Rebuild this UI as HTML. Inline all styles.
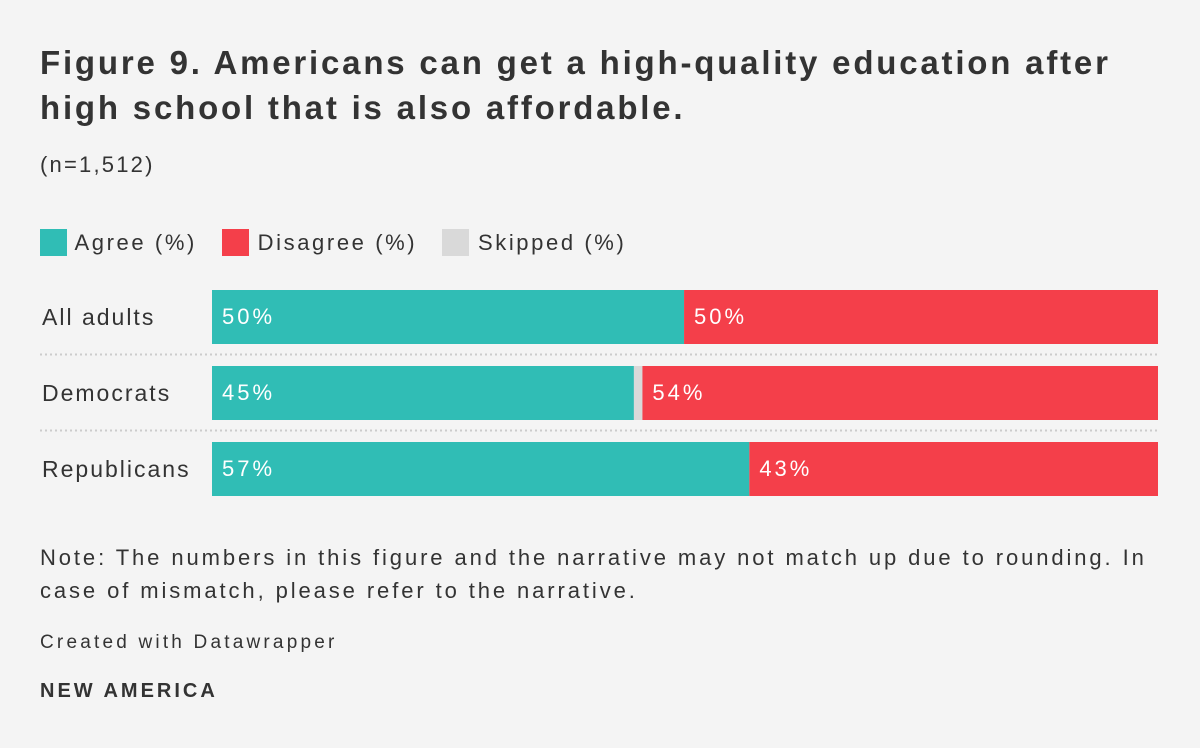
<!DOCTYPE html>
<html><head><meta charset="utf-8"><style>
body{margin:0;width:1200px;height:748px;background:#f4f4f4;font-family:"Liberation Sans",sans-serif;color:#333;position:relative;overflow:hidden}
.abs{position:absolute;white-space:nowrap}
.lg{display:inline-block;margin-right:25px}
</style></head><body>
<div class="abs" style="left:40px;top:40px;font-size:33px;font-weight:bold;line-height:45px;color:#333;letter-spacing:2.8px">Figure 9. Americans can get a high-quality education after<br>high school that is also affordable.</div>
<div class="abs" style="left:40px;top:152px;font-size:22px;letter-spacing:2.2px">(n=1,512)</div>
<div class="abs" style="left:40px;top:228px;font-size:22px;line-height:30px;letter-spacing:2.6px">
<span class="lg"><span style="display:inline-block;width:27px;height:27px;background:#30bdb5;vertical-align:-6px"></span> Agree (%)</span><span class="lg"><span style="display:inline-block;width:27px;height:27px;background:#f43f4a;vertical-align:-6px"></span> Disagree (%)</span><span class="lg"><span style="display:inline-block;width:27px;height:27px;background:#d9d9d9;vertical-align:-6px"></span> Skipped (%)</span>
</div>
<svg id="chart" width="1200" height="748" style="position:absolute;left:0;top:0"></svg>
<div class="abs" style="left:40px;top:541px;font-size:22px;line-height:33px;letter-spacing:2.9px">Note: The numbers in this figure and the narrative may not match up due to rounding. In<br>case of mismatch, please refer to the narrative.</div>
<div class="abs" style="left:40px;top:632px;font-size:19px;letter-spacing:3.2px">Created with Datawrapper</div>
<div class="abs" style="left:40px;top:680px;font-size:20px;font-weight:bold;letter-spacing:3px">NEW AMERICA</div>
<script>
const categories=["All adults","Democrats","Republicans"];
const agree=[49.9,44.6,56.8];
const skipped=[0,0.9,0];
const disagree=[50.1,54.5,43.2];
const agreeLabels=["50%","45%","57%"];
const disagreeLabels=["50%","54%","43%"];
const svg=document.getElementById('chart');
const NS="http://www.w3.org/2000/svg";
const x0=212,x1=1158,rowTop=290,rowStep=76,barH=54;
const xs=v=>v/100*(x1-x0);
function el(t,a){const e=document.createElementNS(NS,t);for(const k in a)e.setAttribute(k,a[k]);svg.appendChild(e);return e;}
categories.forEach((c,i)=>{
 const y=rowTop+i*rowStep;
 const lab=el('text',{x:42,y:y+35,'font-size':23,fill:'#333','letter-spacing':2});lab.textContent=c;
 
 
 let x=x0;
 const segs=[[agree[i],'#30bdb5',agreeLabels[i],'bar-agree'],[skipped[i],'#d9d9d9',null,'bar-skipped'],[disagree[i],'#f43f4a',disagreeLabels[i],'bar-disagree']];
 segs.forEach(s=>{
  const w=xs(s[0]);
  if(w>0){
   const r=el('rect',{x:x,y:y,width:w,height:barH,fill:s[1]});
   
   
   if(s[2]){const t=el('text',{x:x+10,y:y+34,'font-size':22,fill:'#fff','letter-spacing':3});t.textContent=s[2];
    
    }
  }
  x+=w;
 });
 if(i<categories.length-1){
  const l=el('line',{x1:40,x2:x1,y1:y+barH+10.5,y2:y+barH+10.5,stroke:'#ccc','stroke-width':2,'stroke-dasharray':'2,3'});
  
  
 }
});
</script>
</body></html>
